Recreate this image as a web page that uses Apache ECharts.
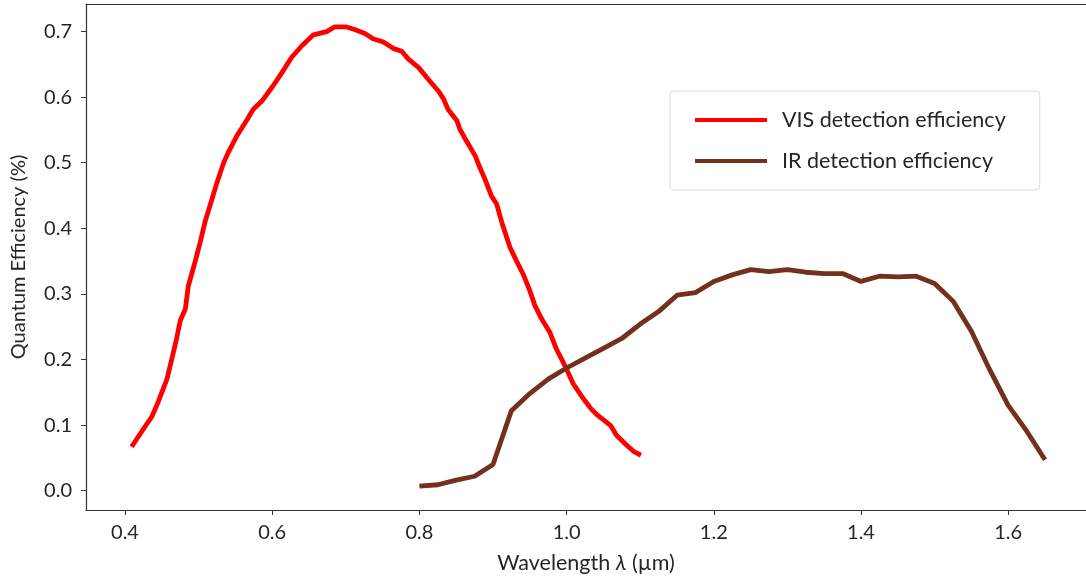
<!DOCTYPE html>
<html>
<head>
<meta charset="utf-8">
<script src="https://cdn.jsdelivr.net/npm/echarts@6/dist/echarts.min.js"></script>
<style>
  html, body { margin: 0; padding: 0; background: #fff; }
  #chart { width: 1086px; height: 579px; }
</style>
</head>
<body>
<div id="chart"></div>
<script>
    // VIS detection efficiency
    var visWave = [0.409, 0.425, 0.436, 0.445, 0.457, 0.463, 0.470, 0.475, 0.482, 0.486,
        0.495, 0.502, 0.509, 0.518, 0.525, 0.534, 0.540, 0.552, 0.565, 0.574,
        0.586, 0.601, 0.613, 0.626, 0.640, 0.656, 0.674, 0.685, 0.701, 0.712,
        0.726, 0.737, 0.751, 0.765, 0.776, 0.785, 0.799, 0.810, 0.826, 0.833,
        0.839, 0.851, 0.855, 0.864, 0.876, 0.882, 0.889, 0.898, 0.905, 0.912,
        0.923, 0.932, 0.941, 0.950, 0.957, 0.966, 0.977, 0.986, 0.993, 1.000,
        1.009, 1.021, 1.033, 1.042, 1.060, 1.068, 1.080, 1.092, 1.101];
    var visEff = [0.067, 0.094, 0.112, 0.135, 0.170, 0.198, 0.231, 0.259, 0.277, 0.312,
        0.348, 0.378, 0.411, 0.444, 0.470, 0.500, 0.515, 0.541, 0.564, 0.581,
        0.594, 0.617, 0.637, 0.660, 0.678, 0.695, 0.700, 0.707, 0.707, 0.703,
        0.697, 0.689, 0.684, 0.674, 0.670, 0.658, 0.645, 0.630, 0.609, 0.597,
        0.581, 0.564, 0.551, 0.533, 0.510, 0.493, 0.475, 0.449, 0.437, 0.409,
        0.371, 0.350, 0.330, 0.305, 0.282, 0.262, 0.242, 0.216, 0.201, 0.185,
        0.163, 0.143, 0.125, 0.115, 0.099, 0.084, 0.071, 0.059, 0.054];

    // IR detection efficiency
    var irWave = [0.800, 0.825, 0.850, 0.875, 0.900, 0.925, 0.950, 0.975, 1.000, 1.025,
        1.050, 1.075, 1.100, 1.125, 1.150, 1.175, 1.200, 1.225, 1.250, 1.275,
        1.300, 1.325, 1.350, 1.375, 1.400, 1.425, 1.450, 1.475, 1.500, 1.525,
        1.550, 1.575, 1.600, 1.625, 1.650];
    var irEff = [0.007, 0.009, 0.016, 0.022, 0.040, 0.122, 0.148, 0.170, 0.187, 0.202,
        0.217, 0.232, 0.254, 0.273, 0.298, 0.302, 0.319, 0.329, 0.337, 0.334,
        0.337, 0.333, 0.331, 0.331, 0.319, 0.327, 0.326, 0.327, 0.316, 0.289,
        0.243, 0.184, 0.130, 0.091, 0.047];

    var xTicks = [0.4, 0.6, 0.8, 1.0, 1.2, 1.4, 1.6];
    var yTicks = [0.0, 0.1, 0.2, 0.3, 0.4, 0.5, 0.6, 0.7];
    var seriesNames = ['VIS detection efficiency', 'IR detection efficiency'];

    function pairs(xs, ys) {
        return xs.map(function (x, i) { return [x, ys[i]]; });
    }

    var FONT = 'Lato';
    var TXT = '#262626';
    var chart = echarts.init(document.getElementById('chart'), null, { renderer: 'canvas' });
    var option = {
        animation: false,
        backgroundColor: '#fff',
        textStyle: { fontFamily: FONT },
        grid: { left: 86, right: 0, top: 4, bottom: 67 },
        legend: {
            orient: 'vertical',
            left: 670,
            top: 91,
            padding: [18, 34, 18, 25],
            itemGap: 19,
            itemWidth: 72,
            itemHeight: 4,
            icon: 'rect',
            backgroundColor: '#fff',
            borderColor: '#dcdcdc',
            borderWidth: 1,
            borderRadius: 4,
            textStyle: { fontFamily: FONT, fontSize: 21.5, color: TXT, padding: [0, 0, 0, 10] },
            data: seriesNames
        },
        xAxis: [{
            type: 'value',
            min: 0.3470,
            max: 1.7057,
            name: 'Wavelength {i|λ} (µm)',
            nameLocation: 'middle',
            nameGap: 42,
            nameTextStyle: {
                fontFamily: FONT, fontSize: 21.5, color: TXT,
                rich: { i: { fontFamily: FONT, fontSize: 21.5, fontStyle: 'italic', color: TXT } }
            },
            splitLine: { show: false },
            axisLine: { onZero: false, lineStyle: { color: '#333', width: 1.2 } },
            axisTick: { length: 5, lineStyle: { color: '#333' }, customValues: xTicks },
            axisLabel: {
                fontFamily: FONT, fontSize: 20, color: TXT, margin: 13,
                customValues: xTicks,
                formatter: function (v) { return v.toFixed(1); }
            }
        }, {
            type: 'value',
            position: 'top',
            min: 0.3470,
            max: 1.7057,
            axisLine: { show: true, onZero: false, lineStyle: { color: '#333', width: 1.2 } },
            axisTick: { show: false },
            axisLabel: { show: false },
            splitLine: { show: false }
        }],
        yAxis: {
            type: 'value',
            min: -0.0295,
            max: 0.742,
            name: 'Quantum Efficiency (%)',
            nameLocation: 'middle',
            nameGap: 57,
            nameTextStyle: { fontFamily: FONT, fontSize: 20, color: TXT },
            splitLine: { show: false },
            axisLine: { show: true, onZero: false, lineStyle: { color: '#333', width: 1.2 } },
            axisTick: { show: true, length: 5, lineStyle: { color: '#333' }, customValues: yTicks },
            axisLabel: {
                fontFamily: FONT, fontSize: 20, color: TXT, margin: 14,
                customValues: yTicks,
                formatter: function (v) { return v.toFixed(1); }
            }
        },
        series: [{
            name: seriesNames[0],
            type: 'line',
            data: pairs(visWave, visEff),
            showSymbol: false,
            symbol: 'none',
            lineStyle: { color: '#ff0000', width: 4.8 },
            itemStyle: { color: '#ff0000' }
        }, {
            name: seriesNames[1],
            type: 'line',
            data: pairs(irWave, irEff),
            showSymbol: false,
            symbol: 'none',
            lineStyle: { color: '#73301c', width: 4.8 },
            itemStyle: { color: '#73301c' }
        }]
    };
    chart.setOption(option);
</script>
</body>
</html>
